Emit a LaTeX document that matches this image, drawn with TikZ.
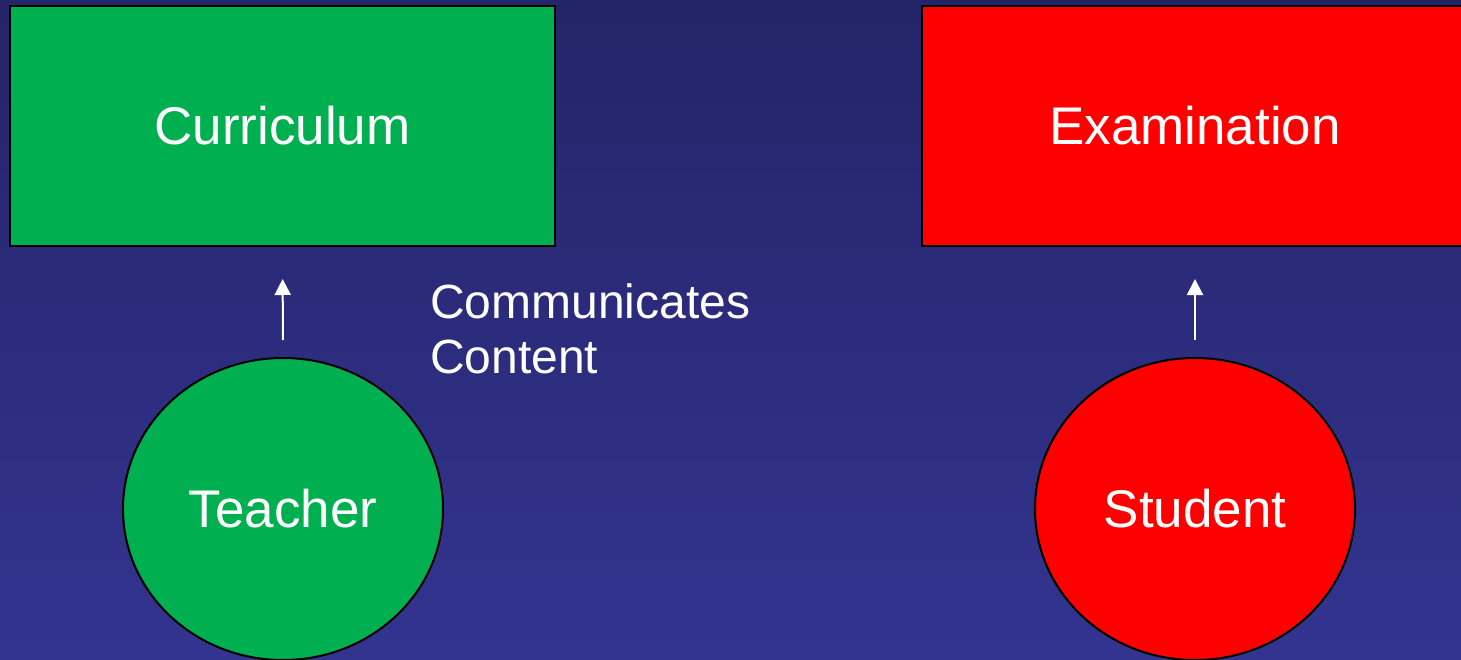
\documentclass[tikz,border=0pt]{standalone}
\usepackage{fontspec}
\setmainfont{Liberation Sans}
\usetikzlibrary{shapes.geometric,arrows.meta}
\definecolor{bgtop}{RGB}{36,36,104}
\definecolor{bgbot}{RGB}{51,52,144}
\definecolor{cgreen}{RGB}{0,176,80}
\definecolor{cred}{RGB}{255,0,0}
\tikzset{
  box/.style={rectangle, draw=black, line width=2pt, inner sep=0pt,
    minimum height=240pt, text=white, font=\fontsize{53}{60}\selectfont},
  person/.style={ellipse, draw=black, line width=2pt, inner sep=0pt,
    minimum width=320pt, minimum height=302pt, text=white,
    font=\fontsize{53}{60}\selectfont},
  uparrow/.style={draw=white, line width=2pt,
    -{Triangle[width=16pt,length=16pt]}, shorten <=17pt, shorten >=32pt},
  caption/.style={text=white, align=left, inner sep=0pt,
    font=\fontsize{48}{55}\selectfont}
}
\begin{document}
\begin{tikzpicture}[x=1pt,y=-1pt]
  % canvas with vertical gradient
  \clip (0,0) rectangle (1461,660);
  \shade[top color=bgtop, bottom color=bgbot] (0,0) rectangle (1461,660);

  % left side: teacher and curriculum
  \node[box, fill=cgreen, minimum width=545pt] (curriculum) at (282.5,126) {Curriculum};
  \node[person, fill=cgreen] (teacher) at (283,509) {Teacher};
  \draw[uparrow] (teacher.north) -- (curriculum.south);
  \node[caption, anchor=base west] (communicates) at (430,373) {Communicates\\Content};

  % right side: student and examination
  \node[box, fill=cred, minimum width=546pt] (examination) at (1195,126) {Examination};
  \node[person, fill=cred] (student) at (1195,509) {Student};
  \draw[uparrow] (student.north) -- (examination.south);
\end{tikzpicture}
\end{document}
